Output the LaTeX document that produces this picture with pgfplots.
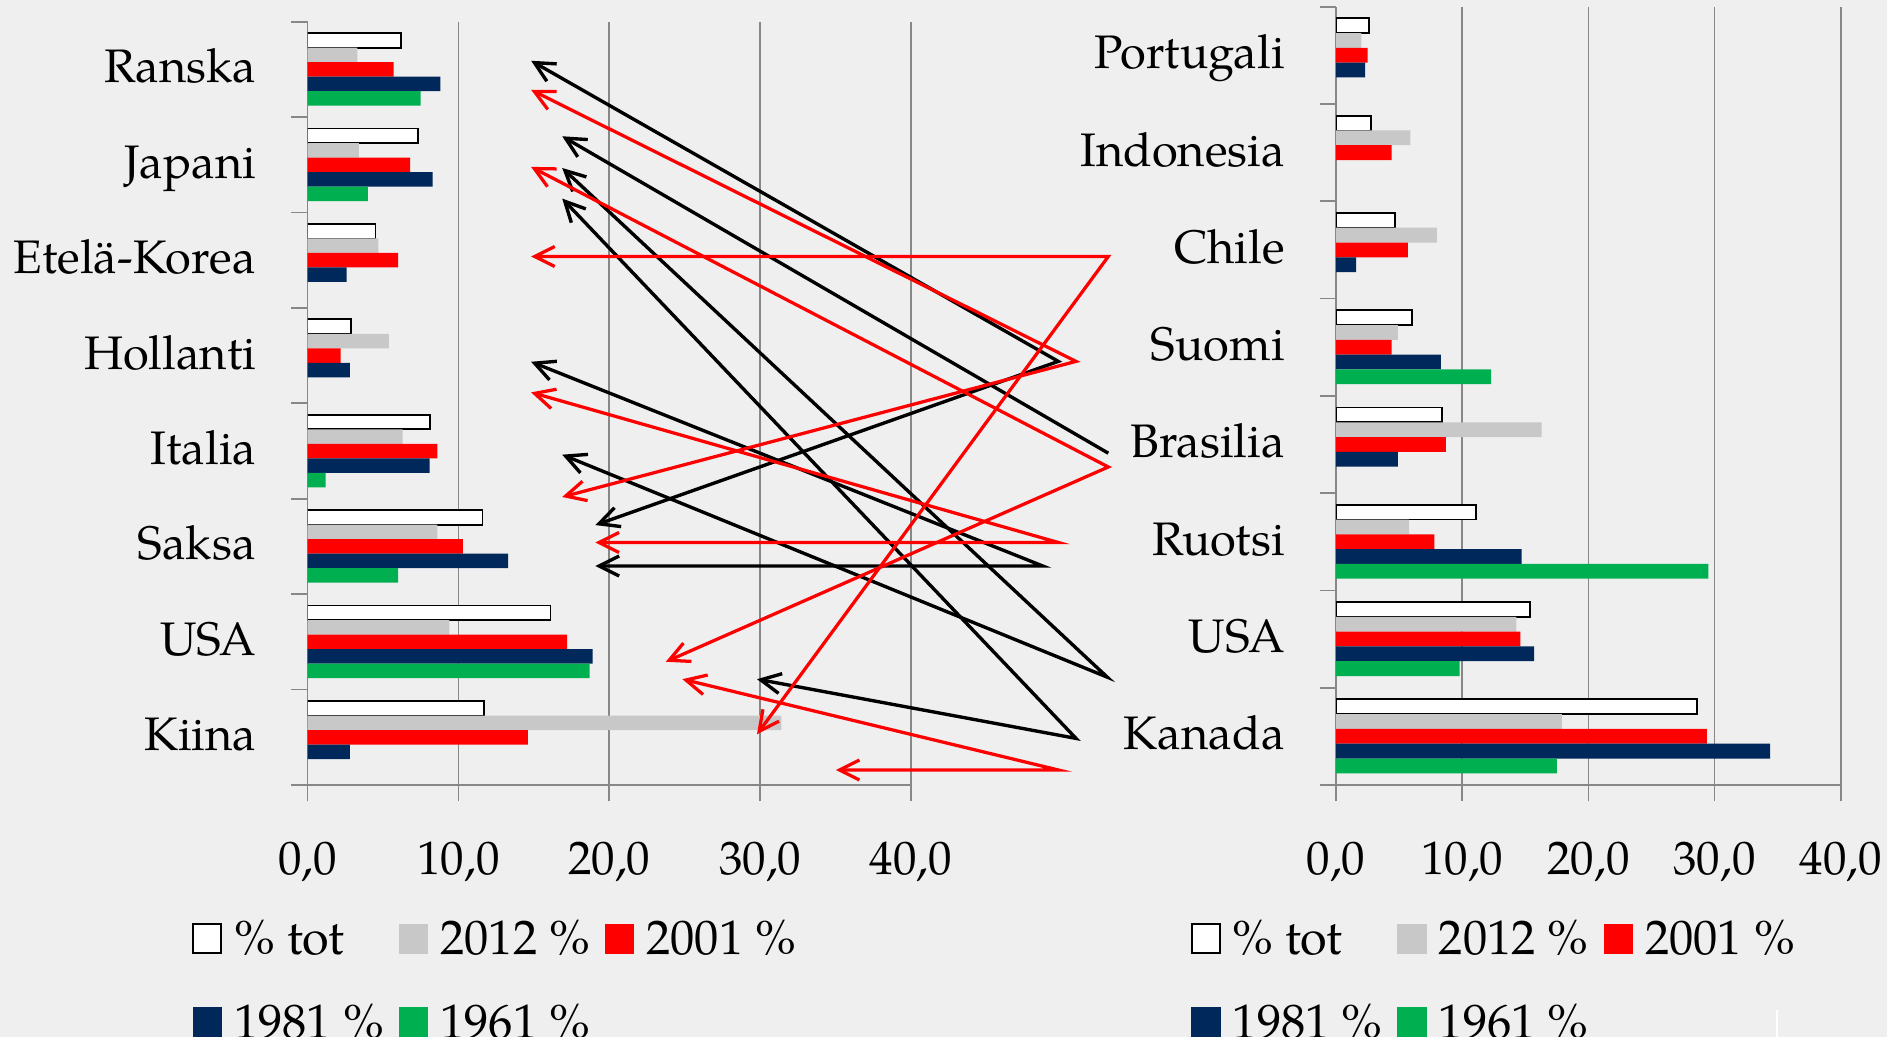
\documentclass[border=0pt]{standalone}
\usepackage{fontspec}
\setmainfont{texgyrepagella}[Extension=.otf, UprightFont=*-regular, BoldFont=*-bold, ItalicFont=*-italic, BoldItalicFont=*-bolditalic]
\usepackage{pgfplots}
\pgfplotsset{compat=1.18}
\usepackage{pgfplotstable}
\usetikzlibrary{arrows.meta}

\definecolor{bg}{HTML}{EFEFEF}
\definecolor{cgray}{HTML}{C8C8C8}
\definecolor{cred}{HTML}{FF0000}
\definecolor{cnavy}{HTML}{00285A}
\definecolor{cgreen}{HTML}{00B050}
\definecolor{gridgray}{HTML}{878787}

% pos: 0 = bottom category
\pgfplotstableread{
pos tot   y2012 y2001 y1981 y1961
0   11.7  31.4  14.6  2.8   nan
1   16.1  9.4   17.2  18.9  18.7
2   11.6  8.6   10.3  13.3  6.0
3   8.1   6.3   8.6   8.1   1.2
4   2.9   5.4   2.2   2.8   nan
5   4.5   4.7   6.0   2.6   nan
6   7.3   3.4   6.8   8.3   4.0
7   6.2   3.3   5.7   8.8   7.5
}\leftdata

\pgfplotstableread{
pos tot   y2012 y2001 y1981 y1961
0   28.6  17.9  29.4  34.4  17.5
1   15.4  14.3  14.6  15.7  9.8
2   11.1  5.8   7.8   14.7  29.5
3   8.4   16.3  8.7   4.9   nan
4   6.0   4.9   4.4   8.3   12.3
5   4.7   8.0   5.7   1.6   nan
6   2.8   5.9   4.4   nan   nan
7   2.6   2.0   2.5   2.3   nan
}\rightdata

\newcommand{\bigfont}{\fontsize{18.8pt}{22pt}\selectfont}
\newcommand{\legfont}{\fontsize{19.4pt}{23pt}\selectfont}

\pgfplotsset{
  sq legend/.style={legend image code/.code={\draw[##1] (0.3pt,-5.7pt) rectangle (11.5pt,5.7pt);}},
  sqf legend/.style={legend image code/.code={\fill[##1, draw=none] (0pt,-6pt) rectangle (11.8pt,6pt);}},
  myaxis/.style={
    scale only axis, anchor=south west,
    xmin=0, xmax=40, ymin=-0.5, ymax=7.5,
    axis x line*=bottom, axis y line*=left,
    axis line style={-, draw=gridgray, line width=0.7pt},
    xtick={0,10,20,30,40},
    xticklabels={{0,0},{10,0},{20,0},{30,0},{40,0}},
    ytick={-0.5,0.5,1.5,2.5,3.5,4.5,5.5,6.5,7.5},
    yticklabels={},
    tick align=outside,
    major tick length=6.6pt,
    tick style={draw=gridgray, line width=0.7pt},
    xmajorgrids,
    major grid style={draw=gridgray, line width=0.7pt},
    extra y ticks={0,1,2,3,4,5,6,7},
    extra y tick style={major tick length=0pt, tick style={draw=none}},
    tick label style={font=\bigfont},
    xticklabel style={anchor=base, inner sep=0pt, yshift=-29.2pt},
    yticklabel style={anchor=base east, inner sep=0pt, xshift=-20.4pt, yshift=-5.4pt},
    xbar, bar width=0.152,
    legend columns=3,
    legend cell align=left,
    legend style={anchor=north west, draw=none, fill=none, inner sep=0pt, outer sep=0pt,
      font=\legfont, row sep=20.5pt,
      nodes={inner sep=0pt, text height=13pt, text depth=0pt},
      /tikz/every odd column/.append style={column sep=4.8pt},
      /tikz/every even column/.append style={column sep=5.9pt}},
  }
}

\begin{document}
\begin{tikzpicture}[x=0.4pt,y=0.4pt]
\useasboundingbox (0,0) rectangle (1887,1037);
\fill[bg] (0,0) rectangle (1887,1037);
\clip (0,0) rectangle (1887,1037);

\begin{axis}[myaxis, at={(123pt,100.8pt)}, width=241.4pt, height=305.32pt,
  extra y tick labels={Kiina,USA,Saksa,Italia,Hollanti,Etelä-Korea,Japani,Ranska},
  legend style={at={(-0.19056,-0.1800)}}]
\addplot[sq legend, fill=white, draw=black, line width=0.7pt, bar shift=0.304] table[x=tot,y=pos]{\leftdata};
\addplot[sqf legend, fill=cgray, draw=none, bar shift=0.152] table[x=y2012,y=pos]{\leftdata};
\addplot[sqf legend, fill=cred, draw=none, bar shift=0] table[x=y2001,y=pos]{\leftdata};
\addplot[sqf legend, fill=cnavy, draw=none, bar shift=-0.152] table[x=y1981,y=pos]{\leftdata};
\addplot[sqf legend, fill=cgreen, draw=none, bar shift=-0.304] table[x=y1961,y=pos]{\leftdata};
\legend{\% tot, 2012 \%, 2001 \%, 1981 \%, 1961 \%}
\end{axis}

\begin{axis}[myaxis, at={(534.4pt,100.8pt)}, width=201.88pt, height=311.32pt,
  extra y tick labels={Kanada,USA,Ruotsi,Brasilia,Suomi,Chile,Indonesia,Portugali},
  legend style={at={(-0.2873,-0.1765)}}]
\addplot[sq legend, fill=white, draw=black, line width=0.7pt, bar shift=0.304] table[x=tot,y=pos]{\rightdata};
\addplot[sqf legend, fill=cgray, draw=none, bar shift=0.152] table[x=y2012,y=pos]{\rightdata};
\addplot[sqf legend, fill=cred, draw=none, bar shift=0] table[x=y2001,y=pos]{\rightdata};
\addplot[sqf legend, fill=cnavy, draw=none, bar shift=-0.152] table[x=y1981,y=pos]{\rightdata};
\addplot[sqf legend, fill=cgreen, draw=none, bar shift=-0.304] table[x=y1961,y=pos]{\rightdata};
\legend{\% tot, 2012 \%, 2001 \%, 1981 \%, 1961 \%}
\end{axis}

% annotation arrows
\tikzset{
  barb/.tip={Straight Barb[length=8pt,width=8pt]},
  blk/.style={draw=black, line width=1.35pt, barb-barb},
  rd/.style={draw=cred, line width=1.3pt, barb-barb}
}
\draw[blk] (531.1,976.2) -- (1058.3,675.6) -- (595.4,511.9);
\draw[draw=black, line width=1.35pt, -barb] (1108.3,583.8) -- (562.2,900.7);
\draw[blk] (562.2,869) -- (1107.3,359.8) -- (562.2,582.3);
\draw[blk] (531.1,675.2) -- (1042.7,471) -- (595.4,471);
\draw[blk] (562.2,838.4) -- (1076,298.6) -- (757,357.8);

\draw[rd] (531.1,780.5) -- (1108.3,780.5) -- (757,302.7);
\draw[rd] (531.1,947.1) -- (1076,675.6) -- (562.2,540);
\draw[rd] (531.1,870.1) -- (1108.3,570) -- (665.8,375.2);
\draw[rd] (531.1,644.6) -- (1058.3,494.5) -- (595.4,494.5);
\draw[rd] (682.4,357.8) -- (1058.3,267) -- (835.8,267);

\draw[white, line width=0.8pt] (1777,27) -- (1777,0);
\end{tikzpicture}
\end{document}
